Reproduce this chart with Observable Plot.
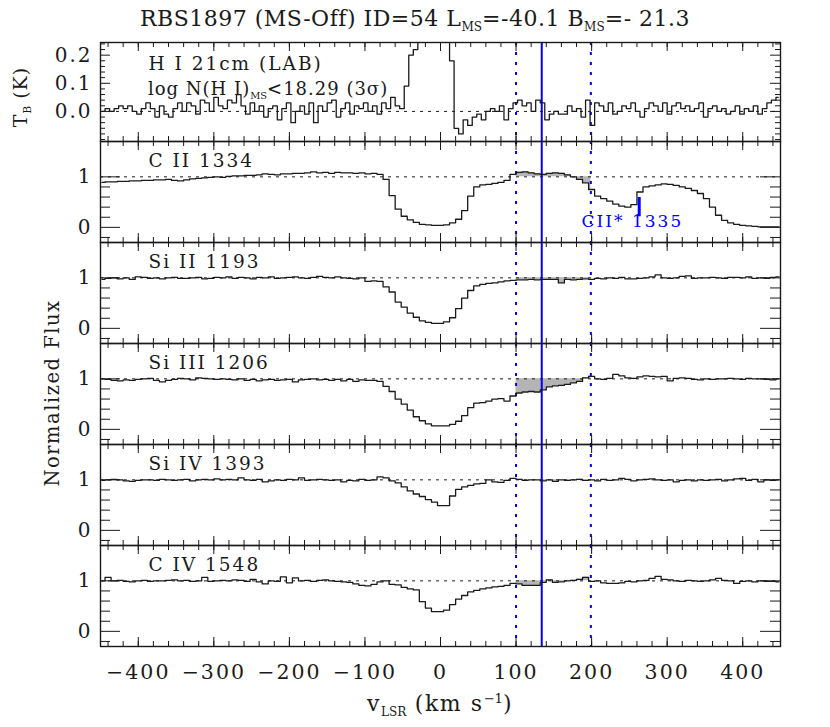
<!DOCTYPE html>
<html><head><meta charset="utf-8">
<script src="https://cdn.jsdelivr.net/npm/d3@7"></script>
<script src="https://cdn.jsdelivr.net/npm/@observablehq/plot@0.6"></script>
<style>
body{margin:0;background:#fff;}
#chart{position:relative;width:830px;height:727px;font-family:"DejaVu Serif",serif;color:#1a1a1a;overflow:hidden;}
.abs{position:absolute;white-space:nowrap;line-height:1;}
sub,sup{line-height:0;}
</style></head><body><div id="chart"></div>
<script>
// ---------- data ----------
const vLo = 100, vHi = 199, vMS = 134;          // integration range (dotted) and MS velocity (solid)
const xDomain = [-450, 450];
const xMajorTicks = [-400, -300, -200, -100, 0, 100, 200, 300, 400];
const xMinorTicks = d3.range(-440, 441, 20);
const fluxMajorTicks = [0, 1];
const fluxMinorTicks = [-0.2, 0.2, 0.4, 0.6, 0.8];
const hiMajorTicks = [0.0, 0.1, 0.2];
const hiMinorTicks = [-0.1, -0.08, -0.06, -0.04, -0.02, 0.02, 0.04, 0.06, 0.08, 0.12, 0.14, 0.16, 0.18, 0.22, 0.24];
const lineLabels = ["H I 21cm (LAB)", "C II 1334", "Si II 1193", "Si III 1206", "Si IV 1393", "C IV 1548"];

// HI 21cm brightness temperature (K), channels centred at -447 ... 447 km/s, 6 km/s apart
const hiVel = d3.range(-447, 448, 6);
const hiTB = [
  0.00, 0.01, 0.00, 0.01, 0.02, 0.01, 0.02, 0.00,-0.01, 0.01,
  0.03, 0.01,-0.02, 0.02,-0.01,-0.02, 0.01, 0.03, 0.00, 0.03,
  0.02,-0.01, 0.04, 0.03, 0.00, 0.05, 0.02, 0.01, 0.04, 0.03,
  0.06, 0.02,-0.01, 0.03, 0.00, 0.02,-0.02, 0.01, 0.02,-0.03,
  0.01, 0.03,-0.04, 0.00, 0.02,-0.01, 0.03,-0.04, 0.02, 0.00,
  0.03, 0.04,-0.02, 0.01, 0.03,-0.01, 0.02, 0.01, 0.03, 0.00,
  0.02,-0.01, 0.03, 0.01, 0.05, 0.02, 0.01, 0.09, 0.20, 0.22,
  0.40, 0.65, 0.80, 0.75, 0.60, 0.45, 0.30, 0.18,-0.06,-0.08,
 -0.03,-0.05,-0.02,-0.01,-0.03, 0.00, 0.01, 0.00, 0.02,-0.03,
  0.01, 0.03, 0.04, 0.02, 0.03, 0.00, 0.04, 0.03,-0.03,-0.01,
  0.00,-0.01,-0.01, 0.02, 0.00, 0.01,-0.02, 0.04,-0.05, 0.03,
  0.02, 0.00, 0.03,-0.01, 0.00, 0.02, 0.01, 0.03, 0.00,-0.02,
  0.01, 0.03, 0.02, 0.00, 0.03,-0.01, 0.02, 0.03, 0.01, 0.02,
  0.00, 0.01, 0.03,-0.02, 0.01, 0.02, 0.00, 0.01,-0.01, 0.00,
  0.02,-0.01, 0.01, 0.00, 0.02,-0.01, 0.01, 0.03, 0.04, 0.05
];

// UV normalized flux, pixels centred at -448 ... 448 km/s, 8 km/s apart
const uvVel = d3.range(-448, 449, 8);
const fluxCII1334 = [
  0.89,0.90,0.90,0.91,0.91,0.92,0.92,0.93,0.93,0.94,
  0.94,0.95,0.93,0.92,0.94,0.96,0.97,0.98,0.99,1.00,
  0.99,1.01,1.02,1.02,1.03,1.03,1.04,1.06,1.05,1.04,
  1.06,1.06,1.07,1.07,1.08,1.10,1.08,1.09,1.07,1.09,
  1.08,1.08,1.07,1.08,1.06,1.07,1.05,0.95,0.63,0.36,
  0.22,0.15,0.10,0.06,0.05,0.04,0.04,0.05,0.09,0.16,
  0.33,0.62,0.80,0.84,0.85,0.87,0.89,0.93,1.05,1.09,
  1.10,1.08,1.06,1.05,1.07,1.08,1.07,1.04,1.00,0.95,
  0.88,0.75,0.62,0.57,0.52,0.46,0.42,0.40,0.45,0.70,
  0.80,0.82,0.84,0.86,0.85,0.83,0.80,0.77,0.73,0.67,
  0.57,0.40,0.24,0.14,0.09,0.06,0.04,0.03,0.02,0.01,
  0.01,0.01,0.01
];
const fluxSiII1193 = [
  0.97,0.99,1.00,0.98,1.00,0.97,1.02,1.01,0.99,1.00,
  0.98,1.00,1.01,0.99,0.99,1.00,1.01,0.98,0.99,1.01,
  1.00,1.02,0.99,1.01,1.00,0.98,1.01,1.00,1.02,0.99,
  1.00,1.01,1.02,1.00,0.99,1.01,1.03,1.01,1.00,1.02,
  1.00,0.99,0.98,1.00,0.93,0.94,0.93,0.82,0.72,0.52,
  0.42,0.30,0.22,0.15,0.12,0.10,0.10,0.13,0.21,0.39,
  0.60,0.75,0.84,0.87,0.89,0.90,0.92,0.94,0.95,0.96,
  0.96,0.97,0.96,0.97,0.97,0.97,0.90,0.97,0.96,0.97,
  0.98,0.97,0.99,0.98,1.00,0.99,1.01,0.98,0.98,0.99,
  1.00,1.02,1.06,1.00,0.99,1.00,1.03,1.04,0.99,1.00,
  1.00,1.01,1.00,0.99,1.01,1.01,1.00,1.02,0.99,1.00,
  0.99,1.01,1.02
];
const fluxSiIII1206 = [
  1.00,0.99,0.97,0.96,0.98,0.97,0.99,1.00,1.01,0.97,
  0.94,0.97,0.99,1.01,1.00,0.98,1.02,1.01,1.00,0.99,
  1.00,0.99,0.98,1.00,0.97,0.99,0.96,0.98,0.99,0.97,
  0.98,0.99,0.94,0.98,0.99,1.00,0.98,0.99,0.97,0.99,
  0.96,0.99,0.95,0.98,0.97,0.97,0.95,0.85,0.75,0.60,
  0.50,0.38,0.25,0.17,0.11,0.07,0.07,0.07,0.10,0.16,
  0.27,0.43,0.52,0.53,0.56,0.60,0.61,0.56,0.66,0.72,
  0.74,0.75,0.74,0.78,0.84,0.86,0.87,0.89,0.92,0.95,
  1.02,1.05,1.00,0.99,1.01,1.09,1.06,1.02,1.01,1.04,
  1.06,1.05,1.04,1.05,0.96,1.01,1.02,1.01,0.99,0.98,
  1.00,0.99,1.00,1.00,1.01,1.00,0.99,1.01,1.00,1.00,
  0.99,0.98,1.00
];
const fluxSiIV1393 = [
  0.99,1.00,1.01,1.00,0.98,0.97,0.99,1.00,1.00,0.99,
  1.01,1.00,0.99,1.00,1.01,0.98,1.00,1.01,1.00,1.02,
  1.00,1.01,1.00,1.04,1.00,0.99,1.01,0.96,0.98,1.00,
  0.99,1.01,1.00,1.04,0.99,1.00,1.01,1.00,0.99,1.00,
  0.96,0.99,0.98,1.01,0.99,1.00,1.06,1.04,0.98,0.94,
  0.86,0.78,0.72,0.67,0.61,0.56,0.49,0.49,0.68,0.81,
  0.86,0.89,0.92,0.93,1.00,0.96,0.95,0.99,1.03,1.01,
  0.99,1.00,1.00,0.98,1.00,0.97,1.00,0.99,1.00,1.01,
  0.99,1.00,0.98,1.01,0.99,1.00,1.03,1.01,0.98,1.00,
  1.01,1.02,1.00,0.99,1.00,0.96,0.99,1.00,0.98,1.00,
  0.99,1.00,1.01,0.98,1.00,1.02,1.03,0.99,1.01,0.96,
  1.00,0.99,1.00
];
const fluxCIV1548 = [
  1.00,1.07,1.00,1.01,0.99,0.98,1.00,1.01,0.99,1.00,
  1.00,1.01,1.02,1.00,1.01,0.99,1.00,1.07,0.99,1.00,
  1.01,1.00,1.02,1.01,0.99,1.03,0.98,0.94,1.00,0.99,
  1.08,0.96,1.06,1.00,1.01,0.99,1.01,1.02,1.00,0.99,
  0.98,0.97,0.94,0.91,0.90,0.93,0.98,1.00,0.93,0.92,
  0.87,0.84,0.82,0.59,0.46,0.39,0.39,0.42,0.53,0.64,
  0.71,0.78,0.81,0.84,0.86,0.88,0.89,0.91,0.95,0.94,
  0.91,0.91,0.91,0.97,1.02,0.97,0.98,1.00,1.01,1.03,
  1.07,0.99,1.00,0.96,0.95,0.95,0.96,0.99,0.98,1.00,
  1.01,1.05,1.09,1.03,1.02,1.00,0.99,1.01,1.00,0.99,
  1.00,1.02,1.05,1.01,1.00,0.95,0.99,1.00,0.98,1.00,
  0.99,0.99,0.98
];
// C II* 1335 marker in the C II panel
const cIIstarMarker = [{v: 263, lo: 0.21, hi: 0.59}];
const cIIstarLabel = [{v: 254, f: 0.12, text: "CII* 1335"}];

// ---------- drawing ----------
const chart = document.getElementById("chart");
const INK = "#1a1a1a", BLUE = "#0000ff", SHADE = "#b4b4b4";
const W = 680;

function rows(vel, vals) { return vals.map((f, i) => ({v: vel[i], f})); }
function shadeRows(d) {
  const half = (d[1].v - d[0].v) / 2;
  const s = d.filter(p => p.v - half >= vLo - 1e-9 && p.v - half < vHi).map(p => ({v: p.v - half, f: p.f}));
  s.push({v: vHi, f: s[s.length - 1].f});
  return s;
}

const layout = [
  {top: 42, h: 99},
  {top: 141, h: 101},
  {top: 242, h: 101},
  {top: 343, h: 101},
  {top: 444, h: 101},
  {top: 545, h: 101}
];

const panels = [
  {data: rows(hiVel, hiTB), hi: true},
  {data: rows(uvVel, fluxCII1334), cIIstar: true},
  {data: rows(uvVel, fluxSiII1193)},
  {data: rows(uvVel, fluxSiIII1206)},
  {data: rows(uvVel, fluxSiIV1393)},
  {data: rows(uvVel, fluxCIV1548), last: true}
];

panels.forEach((p, i) => {
  const {top, h} = layout[i];
  const mt = 2, mb = p.last ? 50 : 2;
  const yDomain = p.hi ? [-0.107, 0.245] : [-0.3, 1.7];
  const yMajor = p.hi ? hiMajorTicks : fluxMajorTicks;
  const yMinor = p.hi ? hiMinorTicks : fluxMinorTicks;
  const majLen = p.hi ? 10 : 20, minLen = p.hi ? 5 : 10;
  const marks = [];
  if (!p.hi) marks.push(Plot.area(shadeRows(p.data), {x1: "v", y1: () => 1, y2: "f", curve: "step-after", fill: SHADE}));
  marks.push(
    Plot.ruleY([p.hi ? 0 : 1], {stroke: INK, strokeWidth: 1, strokeDasharray: "3,5"}),
    Plot.ruleX([vLo, vHi], {stroke: BLUE, strokeWidth: 2, strokeDasharray: "3,7"}),
    Plot.ruleX([vMS], {stroke: BLUE, strokeWidth: 2}),
    Plot.line(p.data, {x: "v", y: "f", curve: "step", stroke: INK, strokeWidth: 1.3, clip: true}),
    // inward ticks: top / bottom
    Plot.tickX(xMinorTicks, {x: d => d, insetBottom: h - 5, stroke: INK}),
    Plot.tickX(xMinorTicks, {x: d => d, insetTop: h - 5, stroke: INK}),
    Plot.tickX(xMajorTicks, {x: d => d, insetBottom: h - 9, stroke: INK}),
    Plot.tickX(xMajorTicks, {x: d => d, insetTop: h - 9, stroke: INK}),
    // inward ticks: left / right
    Plot.tickY(yMinor, {y: d => d, insetRight: W - minLen, stroke: INK}),
    Plot.tickY(yMinor, {y: d => d, insetLeft: W - minLen, stroke: INK}),
    Plot.tickY(yMajor, {y: d => d, insetRight: W - majLen, stroke: INK}),
    Plot.tickY(yMajor, {y: d => d, insetLeft: W - majLen, stroke: INK}),
    Plot.frame({stroke: INK, strokeWidth: 1.4}),
    Plot.axisY(yMajor, {tickSize: 0, tickPadding: 8, label: null, fontSize: 20,
      tickFormat: p.hi ? d3.format(".1f") : d3.format("d")}),
    Plot.text([lineLabels[i]], {frameAnchor: "top-left", dx: 48, dy: p.hi ? 14 : 12, lineAnchor: "top",
      textAnchor: "start", fontSize: 18.5, fill: INK})
  );
  if (p.cIIstar) {
    marks.push(
      Plot.ruleX(cIIstarMarker, {x: "v", y1: "lo", y2: "hi", stroke: BLUE, strokeWidth: 3}),
      Plot.text(cIIstarLabel, {x: "v", y: "f", text: "text", fill: BLUE, fontSize: 17})
    );
  }
  if (p.last) {
    marks.push(Plot.axisX(xMajorTicks, {tickSize: 0, tickPadding: 18, label: null, fontSize: 20.5}));
  }
  const svg = Plot.plot({
    width: 830, height: h + mt + mb,
    marginLeft: 100, marginRight: 50, marginTop: mt, marginBottom: mb,
    x: {domain: xDomain, axis: p.last ? undefined : null},
    y: {domain: yDomain},
    style: {fontFamily: "DejaVu Serif", fontSize: "18px", color: INK, background: "transparent",
      letterSpacing: "2px", overflow: "visible"},
    marks
  });
  svg.style.position = "absolute";
  svg.style.left = "0px";
  svg.style.top = (top - mt) + "px";
  chart.append(svg);
});

function addText(html, css) {
  const d = document.createElement("div");
  d.className = "abs";
  d.innerHTML = html;
  Object.assign(d.style, css);
  chart.append(d);
}
const sub = s => `<sub style="font-size:0.55em;vertical-align:-0.45em;letter-spacing:0">${s}</sub>`;
addText(`RBS1897 (MS-Off) ID=54 L${sub("MS")}=-40.1 B${sub("MS")}=- 21.3`,
  {left: "0px", width: "830px", textAlign: "center", top: "8px", fontSize: "22px", letterSpacing: "0.5px"});
addText(`log N(H I)${sub("MS")}&lt;18.29 (3σ)`,
  {left: "148px", top: "80px", fontSize: "18px", letterSpacing: "1px"});
addText(`T${sub("B")} (K)`,
  {left: "20px", top: "97px", fontSize: "19px", letterSpacing: "1px", transform: "translate(-50%,-50%) rotate(-90deg)"});
addText(`Normalized Flux`,
  {left: "53px", top: "393px", fontSize: "19.5px", letterSpacing: "1.5px", transform: "translate(-50%,-50%) rotate(-90deg)"});
addText(`v${sub("LSR")} (km s<sup style="font-size:0.6em;vertical-align:0.6em;letter-spacing:0">−1</sup>)`,
  {left: "440px", top: "693px", fontSize: "22px", letterSpacing: "1.5px", transform: "translateX(-50%)"});
</script></body></html>
